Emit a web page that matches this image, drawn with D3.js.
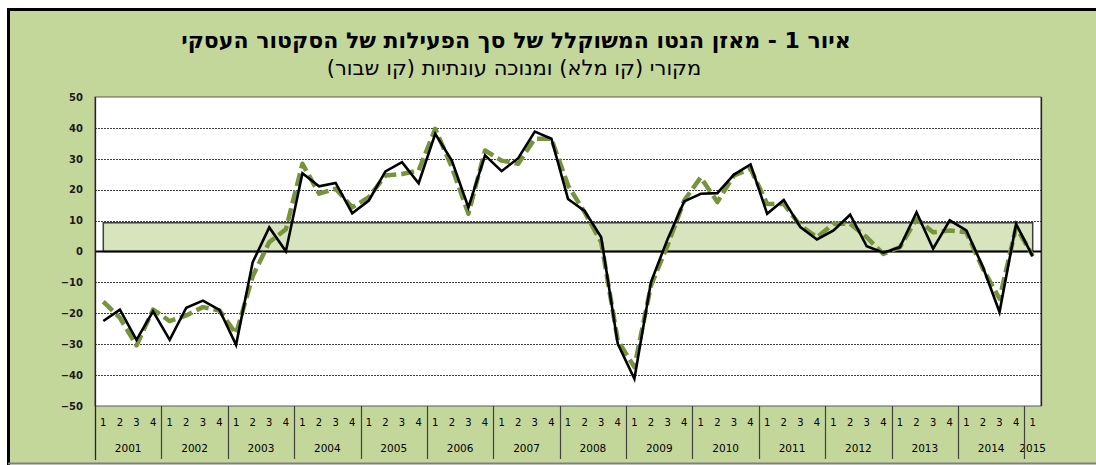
<!DOCTYPE html>
<html>
<head>
<meta charset="utf-8">
<script src="https://cdn.jsdelivr.net/npm/d3@7"></script>
<style>
  body { margin: 0; background: #ffffff; }
  svg { display: block; }
</style>
</head>
<body>
<svg id="chart" width="1096" height="465"></svg>
<script>
const years = ["2001", "2002", "2003", "2004", "2005", "2006", "2007",
  "2008", "2009", "2010", "2011", "2012", "2013", "2014", "2015"];
const quarters = ["1", "2", "3", "4"];
const yTicks = [-50, -40, -30, -20, -10, 0, 10, 20, 30, 40, 50];

// original series (solid black)
const original = [
  -22.5, -18.8, -28.6, -19.4, -28.6, -18.2, -15.9, -18.9,
  -30.2, -3.5, 7.8, 0.1, 25.3, 21.1, 22.2, 12.4,
  16.5, 25.9, 28.9, 22.1, 38.1, 29.4, 14.3, 31.1,
  26.0, 30.2, 38.8, 36.5, 17.0, 13.1, 4.6, -29.9,
  -41.2, -9.9, 4.0, 16.2, 18.7, 18.9, 24.9, 28.2,
  12.2, 16.7, 7.9, 3.9, 6.8, 11.9, 1.7, -0.4,
  1.4, 12.7, 0.9, 10.1, 6.8, -5.0, -19.6, 8.9,
  -1.6
];

// seasonally adjusted series (green dashed)
const adjusted = [
  -16.2, -21.5, -30.4, -18.8, -22.5, -20.7, -18.0, -19.1,
  -26.6, -8.0, 3.0, 7.2, 28.4, 18.7, 20.3, 14.3,
  17.6, 24.6, 25.1, 26.2, 39.7, 27.3, 12.2, 32.7,
  29.4, 28.4, 36.5, 36.5, 21.4, 12.7, 3.0, -28.8,
  -37.4, -11.0, 2.0, 16.5, 24.0, 16.0, 24.6, 26.8,
  15.4, 15.4, 8.4, 4.6, 9.0, 9.0, 4.6, -0.8,
  1.4, 10.6, 6.2, 6.8, 6.2, -5.6, -15.3, 7.9,
  -1.3
];

// light green band
const bandValue = 9.3;

const categories = [];
years.forEach((yr) => {
  const qs = yr === "2015" ? ["1"] : quarters;
  qs.forEach((q) => categories.push({ year: yr, q: q }));
});

const svg = d3.select("#chart");
const W = 1096, H = 465;
const plot = { left: 95, right: 1041, top: 97, bottom: 406 };

// outer background and frame
svg.append("rect")
  .attr("x", 0).attr("y", 0).attr("width", W).attr("height", H)
  .attr("fill", "#ffffff");
svg.append("rect")
  .attr("x", 9).attr("y", 10).attr("width", W + 20).attr("height", 453)
  .attr("fill", "#c4d79b")
  .attr("stroke", "none");
svg.append("line")
  .attr("x1", 8).attr("x2", W).attr("y1", 9.5).attr("y2", 9.5)
  .attr("stroke", "#000").attr("stroke-width", 3);
svg.append("line")
  .attr("x1", 8.5).attr("x2", 8.5).attr("y1", 8).attr("y2", 465)
  .attr("stroke", "#000").attr("stroke-width", 3);
svg.append("line")
  .attr("x1", 8).attr("x2", W).attr("y1", 463.5).attr("y2", 463.5)
  .attr("stroke", "#7f7f7f").attr("stroke-width", 2);

// title
svg.append("text")
  .attr("x", 516).attr("y", 48)
  .attr("text-anchor", "middle")
  .attr("direction", "rtl")
  .style("font-family", "'DejaVu Sans', 'Liberation Sans', sans-serif")
  .style("font-weight", "bold")
  .style("font-size", "22px")
  .attr("fill", "#000")
  .text("איור 1 - מאזן הנטו המשוקלל של סך הפעילות של הסקטור העסקי");

svg.append("text")
  .attr("x", 514).attr("y", 75)
  .attr("text-anchor", "middle")
  .attr("direction", "rtl")
  .style("font-family", "'DejaVu Sans', 'Liberation Sans', sans-serif")
  .style("font-size", "21px")
  .attr("fill", "#000")
  .text("מקורי (קו מלא) ומנוכה עונתיות (קו שבור)");

// scales
const x = d3.scaleBand()
  .domain(d3.range(categories.length))
  .range([plot.left, plot.right])
  .padding(0);
const cx = (i) => x(i) + x.bandwidth() / 2;

const y = d3.scaleLinear().domain([-50, 50]).range([plot.bottom, plot.top]);

// plot area
svg.append("rect")
  .attr("x", plot.left).attr("y", plot.top)
  .attr("width", plot.right - plot.left).attr("height", plot.bottom - plot.top)
  .attr("fill", "#ffffff")
  .attr("stroke", "#595959").attr("stroke-width", 1);

// gridlines
svg.append("g")
  .selectAll("line")
  .data(yTicks.filter((d) => d !== 0 && d !== 50 && d !== -50))
  .enter()
  .append("line")
  .attr("x1", plot.left).attr("x2", plot.right)
  .attr("y1", (d) => Math.round(y(d)) + 0.5)
  .attr("y2", (d) => Math.round(y(d)) + 0.5)
  .attr("stroke", "#404040")
  .attr("stroke-width", 1)
  .attr("stroke-dasharray", "2,1");

// band
svg.append("rect")
  .attr("x", cx(0))
  .attr("y", y(bandValue))
  .attr("width", cx(categories.length - 1) - cx(0))
  .attr("height", y(0) - y(bandValue))
  .attr("fill", "#d7e4bd")
  .attr("stroke", "#3f3f3f")
  .attr("stroke-width", 1.5);

// zero line
svg.append("line")
  .attr("x1", plot.left).attr("x2", plot.right)
  .attr("y1", y(0)).attr("y2", y(0))
  .attr("stroke", "#000").attr("stroke-width", 2);

// y axis labels
svg.append("g")
  .attr("transform", `translate(${plot.left},0)`)
  .call(d3.axisLeft(y).tickValues(yTicks).tickSize(0).tickPadding(12))
  .call((g) => g.select(".domain").remove())
  .call((g) =>
    g.selectAll("text")
      .style("font-family", "'DejaVu Sans', sans-serif")
      .style("font-size", "10px")
      .style("font-weight", "bold")
      .attr("fill", "#1a1a1a")
  );

// x axis: quarter labels
const xAxis = svg.append("g");
xAxis.selectAll(".q")
  .data(categories)
  .enter()
  .append("text")
  .attr("class", "q")
  .attr("x", (d, i) => cx(i))
  .attr("y", 426)
  .attr("text-anchor", "middle")
  .style("font-family", "'DejaVu Sans', sans-serif")
  .style("font-size", "10px")
  .attr("fill", "#000")
  .text((d) => d.q);

// year labels
const yearSpans = years.map((yr) => {
  const idx = categories.map((c, i) => (c.year === yr ? i : -1)).filter((i) => i >= 0);
  return { year: yr, first: idx[0], last: idx[idx.length - 1] };
});
xAxis.selectAll(".yr")
  .data(yearSpans)
  .enter()
  .append("text")
  .attr("class", "yr")
  .attr("x", (d) => (x(d.first) + x(d.last) + x.bandwidth()) / 2)
  .attr("y", 452)
  .attr("text-anchor", "middle")
  .style("font-family", "'DejaVu Sans', sans-serif")
  .style("font-size", "10.5px")
  .attr("fill", "#000")
  .text((d) => d.year);

// year separators
xAxis.selectAll(".sep")
  .data(yearSpans.slice(1))
  .enter()
  .append("line")
  .attr("x1", (d) => Math.round(x(d.first)) + 0.5)
  .attr("x2", (d) => Math.round(x(d.first)) + 0.5)
  .attr("y1", plot.bottom).attr("y2", 459)
  .attr("stroke", "#404040").attr("stroke-width", 1.2);

// left axis line
svg.append("line")
  .attr("x1", plot.left + 0.5).attr("x2", plot.left + 0.5)
  .attr("y1", plot.top).attr("y2", 460)
  .attr("stroke", "#262626").attr("stroke-width", 1.3);
svg.append("line")
  .attr("x1", plot.right + 0.5).attr("x2", plot.right + 0.5)
  .attr("y1", plot.top).attr("y2", plot.bottom)
  .attr("stroke", "#262626").attr("stroke-width", 1.3);

// lines
const line = d3.line()
  .x((d, i) => cx(i))
  .y((d) => y(d));

svg.append("path")
  .datum(adjusted)
  .attr("d", line)
  .attr("fill", "none")
  .attr("stroke", "#77933c")
  .attr("stroke-width", 4.5)
  .attr("stroke-dasharray", "13,5")
  .attr("stroke-linejoin", "round");

svg.append("path")
  .datum(original)
  .attr("d", line)
  .attr("fill", "none")
  .attr("stroke", "#000000")
  .attr("stroke-width", 2.6)
  .attr("stroke-linejoin", "miter");
</script>
</body>
</html>
